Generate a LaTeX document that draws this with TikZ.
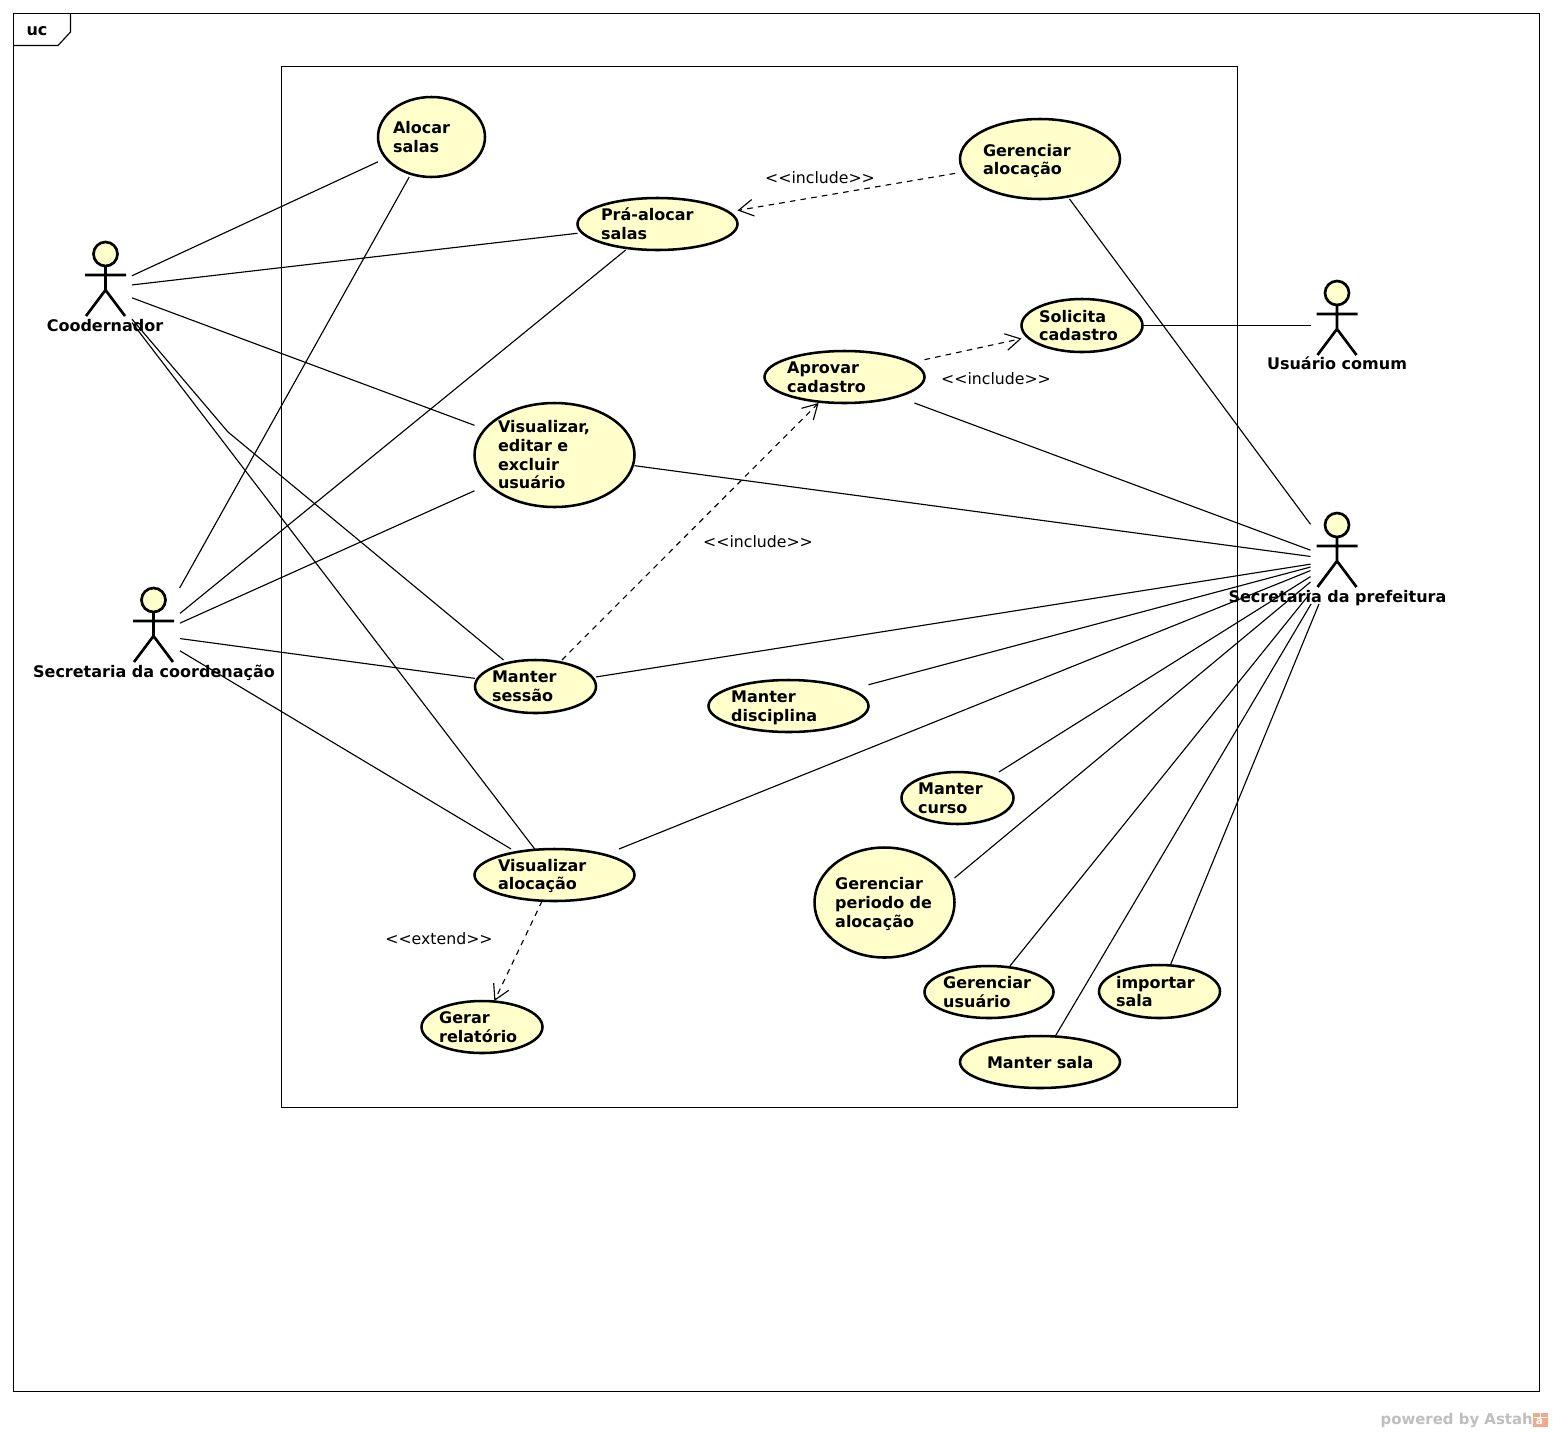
\documentclass[tikz,border=0pt]{standalone}
\usepackage{fontspec}
\setmainfont{DejaVu Sans}
\usetikzlibrary{arrows.meta}
\definecolor{ucfill}{HTML}{FFFFCC}
\definecolor{wmgray}{HTML}{BEBEBE}
\definecolor{wmorange}{HTML}{F2A98A}
\tikzset{
  frameline/.style={draw=black,line width=0.85pt},
  ucborder/.style={draw=black,fill=ucfill,line width=1.9pt},
  ucbox/.style={rectangle,outer sep=0pt,inner sep=0pt},
  uctext/.style={rectangle,outer sep=0pt,inner ysep=0pt,align=left,font=\bfseries\fontsize{12}{14}\selectfont},
  stick/.style={draw=black,line width=2pt},
  actorbox/.style={rectangle,outer sep=0pt,inner sep=0pt,minimum width=39.75pt},
  actorlabel/.style={font=\bfseries\fontsize{12}{14}\selectfont,inner sep=0pt},
  assoc/.style={draw=black,line width=0.85pt},
  dep/.style={draw=black,line width=0.85pt,dash pattern=on 4.2pt off 3.9pt,-{Straight Barb[length=11pt,width=12.5pt,line width=0.85pt]}},
  stereo/.style={font=\fontsize{11.8}{14}\selectfont,inner sep=0pt},
}
% [text dy], name, cx, cy, w, h, left pad, text
\newcommand\ucase[8][0]{%
  \path[ucborder] (#3,#4) ellipse [x radius=#5/2, y radius=#6/2];
  \node[ucbox,minimum width={0.75pt*#5},minimum height={0.75pt*#6}] (#2) at (#3,#4) {};
  \node[uctext,text width={0.75pt*(#5-2*#7)},inner xsep={0.75pt*#7}] (#2text) at (#3,#4+#1) {#8};
}
% name, cx, top, box centre y, box height, label x, label y, label
\newcommand\ucactor[8]{%
  \path[stick,fill=ucfill] (#2,#3+12) circle [radius=12];
  \path[stick] (#2,#3+24) -- (#2,#3+48)
     (#2-20.5,#3+33) -- (#2+20.5,#3+33)
     (#2-19.5,#3+74) -- (#2,#3+48) -- (#2+19.5,#3+74);
  \node[actorbox,minimum height={0.75pt*#5}] (#1) at (#2,#4) {};
  \node[actorlabel] (#1label) at (#6,#7) {#8};
}
\begin{document}
\begin{tikzpicture}[x=0.75pt,y=-0.75pt]
\useasboundingbox (0,0) rectangle (1553,1432);
% frames
\path[frameline] (13.5,13.5) rectangle (1539.5,1391.5);
\path[frameline] (13.5,45.5) -- (58,45.5) -- (70.5,32) -- (70.5,13.5);
\node[actorlabel] (frametag) at (37,31) {uc};
\path[frameline] (281.5,66.5) rectangle (1237.5,1107.5);
% use cases
\ucase{alocar}{431.5}{137}{107}{80}{15}{Alocar\\salas}
\ucase{prealocar}{657.5}{224}{160}{52}{23.5}{Prá-alocar\\salas}
\ucase[2]{geraloc}{1040}{159}{160}{80}{23}{Gerenciar\\alocação}
\ucase{solicita}{1082}{325.5}{121}{53}{17.7}{Solicita\\cadastro}
\ucase{aprovar}{844.5}{377}{160}{52}{22.7}{Aprovar\\cadastro}
\ucase{visuser}{554.5}{455}{160}{104}{23.5}{Visualizar,\\editar e\\excluir\\usuário}
\ucase{sessao}{535.5}{686.5}{121}{53}{17}{Manter\\sessão}
\ucase[2]{disciplina}{788.5}{706}{160}{52}{22.7}{Manter\\disciplina}
\ucase{curso}{957.5}{798}{112}{52}{16.7}{Manter\\curso}
\ucase[1]{visaloc}{554.5}{875}{160}{52}{23.5}{Visualizar\\alocação}
\ucase[1.5]{periodo}{884.5}{902.5}{140}{110}{20.7}{Gerenciar\\periodo de\\alocação}
\ucase{geruser}{989}{992}{129}{52}{18.7}{Gerenciar\\usuário}
\ucase{importar}{1159.5}{991.5}{121}{53}{17}{importar\\sala}
\ucase[1]{sala}{1040}{1062}{160}{52}{20}{\hspace*{5.25pt}Manter sala}
\ucase{relatorio}{482}{1027}{121}{52}{17.7}{Gerar\\relatório}
% actors
\ucactor{coord}{105.5}{242}{288}{92}{105}{326}{Coodernador}
\ucactor{seccoord}{153.5}{588}{635}{94}{154}{672.5}{Secretaria da coordenação}
\ucactor{prefeitura}{1337}{513}{560}{88}{1337.5}{598}{Secretaria da prefeitura}
\ucactor{usuario}{1337}{281}{325.5}{88}{1337}{363}{Usuário comum}
\coordinate (bend) at (228,432);
% associations
\draw[assoc] (coord) -- (alocar);
\draw[assoc] (coord) -- (prealocar);
\draw[assoc] (coord) -- (visuser);
\draw[assoc] (coord) -- (bend) -- (sessao);
\draw[assoc] (coord) -- (visaloc);
\draw[assoc] (seccoord) -- (alocar);
\draw[assoc] (seccoord) -- (prealocar);
\draw[assoc] (seccoord) -- (visuser);
\draw[assoc] (seccoord) -- (sessao);
\draw[assoc] (seccoord) -- (visaloc);
\draw[assoc] (usuario) -- (solicita);
\draw[assoc] (prefeitura) -- (geraloc);
\draw[assoc] (prefeitura) -- (aprovar);
\draw[assoc] (prefeitura) -- (visuser);
\draw[assoc] (prefeitura) -- (sessao);
\draw[assoc] (prefeitura) -- (disciplina);
\draw[assoc] (prefeitura) -- (visaloc);
\draw[assoc] (prefeitura) -- (curso);
\draw[assoc] (prefeitura) -- ([yshift=18.4pt]periodo.east);
\draw[assoc] (prefeitura) -- (geruser);
\draw[assoc] (prefeitura) -- (sala);
\draw[assoc] (prefeitura) -- (importar);
% dependencies
\draw[dep,shorten <=3.75pt] (geraloc) -- (prealocar);
\draw[dep] (aprovar) -- (solicita);
\draw[dep] (sessao) -- (aprovar);
\draw[dep] (visaloc) -- (relatorio);
\node[stereo] (s1) at (820,178) {<{}<include>{}>};
\node[stereo] (s2) at (996,379) {<{}<include>{}>};
\node[stereo] (s3) at (758,542) {<{}<include>{}>};
\node[stereo] (s4) at (439,939) {<{}<extend>{}>};
% watermark
\node[inner sep=0pt,anchor=east,text=wmgray,font=\bfseries\fontsize{11.2}{13}\selectfont] (wm) at (1533,1420.5) {powered by Astah};
\fill[wmorange] (1533,1412.5) rectangle (1548,1427);
\draw[white,line width=0.6pt] (1540.5,1412.5) -- (1540.5,1417) (1534,1417) -- (1547,1417);
\node[inner sep=0pt,text=white,font=\bfseries\fontsize{8}{8}\selectfont] (wmicon) at (1539.5,1422) {a};
\end{tikzpicture}
\end{document}
